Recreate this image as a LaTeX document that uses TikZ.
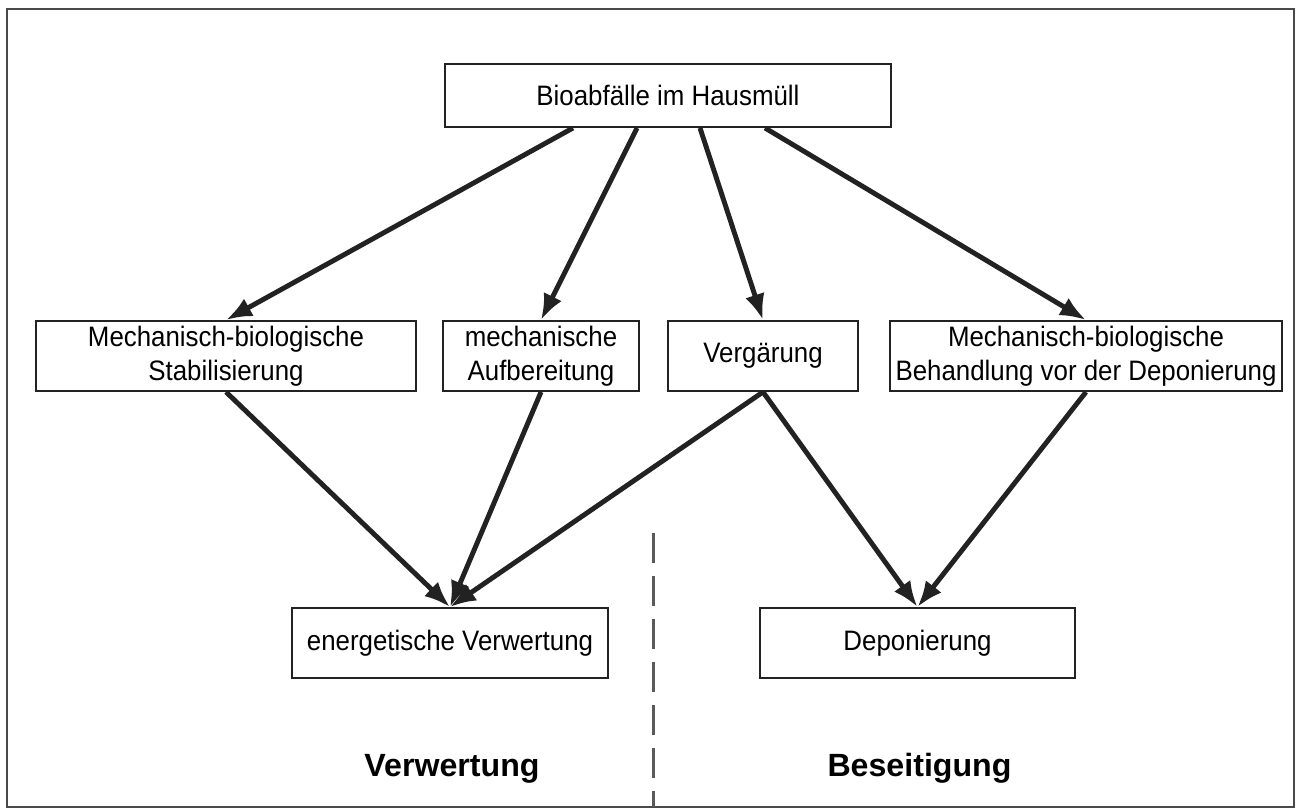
\documentclass[tikz,border=0pt]{standalone}
\usepackage{fontspec}
\setmainfont{Liberation Sans}[FakeStretch=0.92]
\newfontfamily\sidefont{Liberation Sans}
\usepackage{tikz}
\usetikzlibrary{arrows.meta}
\usetikzlibrary{calc}
\definecolor{inkgray}{HTML}{222222}
\definecolor{framegray}{HTML}{4A4A4A}
\definecolor{dashgray}{HTML}{5A5A5A}
\tikzstyle{stepbox}=[draw=inkgray, line width=1.1pt,% plain white box
minimum height=1.4cm, inner sep=0pt, align=center, font=\fontsize{16}{19.3}\selectfont]
\tikzstyle{flow}=[-{Latex[length=0.52cm,width=0.4cm]}, draw=inkgray, line width=2.8pt]
\tikzstyle{side}=[anchor=base, font=\sidefont\bfseries\fontsize{18.3}{22}\selectfont]

\begin{document}
\begin{tikzpicture}[x=0.02cm, y=-0.02cm]
\useasboundingbox (0,0) rectangle (1297,809);
\draw[framegray, line width=1.4pt] (7,9) rectangle (1294,807);
\node[stepbox, minimum width=8.92cm, minimum height=1.26cm] (bio) at (668,95.5) {Bioabfälle im Hausmüll};
\node[stepbox, minimum width=7.6cm] (stab) at (226,356) {Mechanisch-biologische\\Stabilisierung};
\node[stepbox, minimum width=3.92cm] (aufb) at (541,356) {mechanische\\Aufbereitung};
\node[stepbox, minimum width=3.8cm] (verg) at (763,356) {Vergärung};
\node[stepbox, minimum width=7.84cm] (mbb) at (1086,356) {Mechanisch-biologische\\Behandlung vor der Deponierung};
\node[stepbox, minimum width=6.32cm] (energ) at (450,643) {energetische Verwertung};
\node[stepbox, minimum width=6.3cm] (depo) at (917.5,643) {Deponierung};
\draw [flow] ([xshift=-1.9cm]bio.south) -- (stab.north);
\draw [flow] ([xshift=-0.62cm]bio.south) -- (aufb.north);
\draw [flow] ([xshift=0.64cm]bio.south) -- (verg.north);
\draw [flow] ([xshift=1.94cm]bio.south) -- (mbb.north);
\draw [flow] (stab.south) -- (energ.north);
\draw [flow] (aufb.south) -- (energ.north);
\draw [flow] (verg.south) -- (energ.north);
\draw [flow] (verg.south) -- (depo.north);
\draw [flow] (mbb.south) -- (depo.north);
\coordinate (cuttop) at (653,533);
\coordinate (cutbot) at (653,807);
\draw [dashgray, line width=1.7pt, dash pattern=on 0.6cm off 0.26cm] (cuttop) -- (cutbot);
\node[side] (verw) at (452,776) {Verwertung};
\node[side] (beseit) at (919.5,776) {Beseitigung};
\end{tikzpicture}
\end{document}
